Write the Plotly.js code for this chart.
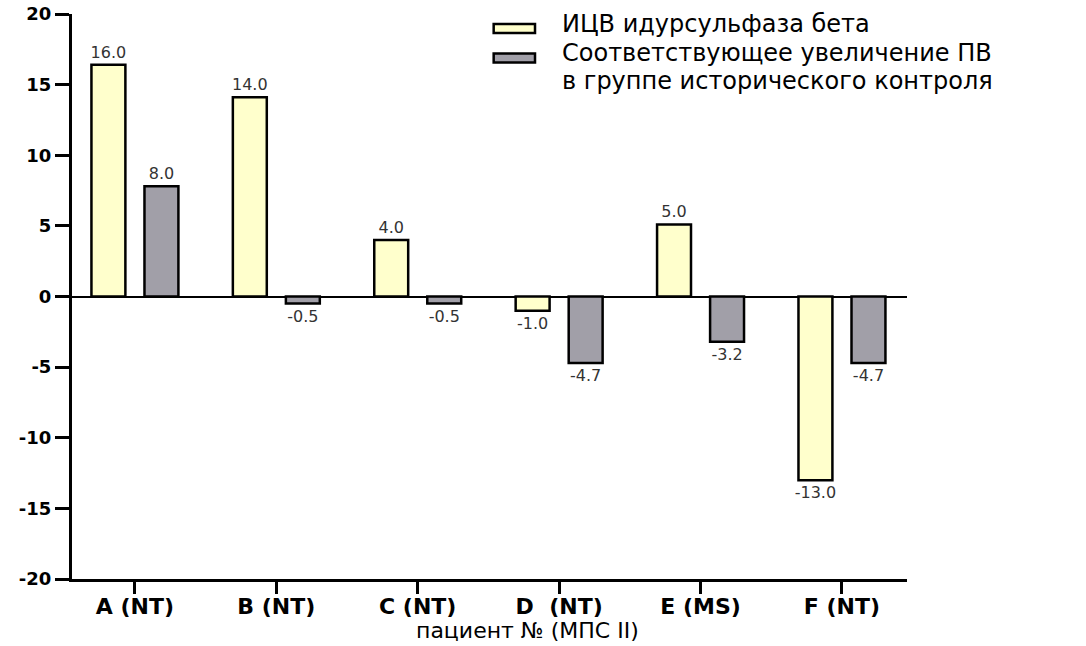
<!DOCTYPE html>
<html>
<head>
<meta charset="utf-8">
<script src="https://cdn.plot.ly/plotly-3.0.1.min.js"></script>
<style>html,body{margin:0;padding:0;background:#fff;}#chart{width:1086px;height:646px;}</style>
</head>
<body>
<div id="chart"></div>
<script>
const categories = ['A (NT)', 'B (NT)', 'C (NT)', 'D\u00a0 (NT)', 'E (MS)', 'F (NT)'];
const seriesNames = ['ИЦВ идурсульфаза бета', 'Соответствующее увеличение ПВ<br>в группе исторического контроля'];
const icvValues = [16.4, 14.1, 4.0, -1.0, 5.1, -13.0];
const icvLabels = ['16.0', '14.0', '4.0', '-1.0', '5.0', '-13.0'];
const histValues = [7.8, -0.5, -0.5, -4.7, -3.2, -4.7];
const histLabels = ['8.0', '-0.5', '-0.5', '-4.7', '-3.2', '-4.7'];
const yTickVals = [-20, -15, -10, -5, 0, 5, 10, 15, 20];
const yTickText = ['-20', '-15', '-10', '-5', '0', '5', '10', '15', '20'];
const xTitle = 'пациент № (МПС II)';
const colors = ['#FFFFCC', '#A19FA8'];

const FONT = 'DejaVu Sans, Arial, sans-serif';

const traces = [
  {type: 'bar', x: categories, y: icvValues, name: seriesNames[0], text: icvLabels,
   textposition: 'outside', constraintext: 'none', cliponaxis: false,
   textfont: {family: FONT, size: 16, color: '#333'},
   marker: {color: colors[0], line: {color: '#000', width: 2.5}}, hoverinfo: 'x+y'},
  {type: 'bar', x: categories, y: histValues, name: seriesNames[1], text: histLabels,
   textposition: 'outside', constraintext: 'none', cliponaxis: false,
   textfont: {family: FONT, size: 16, color: '#333'},
   marker: {color: colors[1], line: {color: '#000', width: 2.5}}, hoverinfo: 'x+y'}
];

const legendLines = seriesNames[1].split('<br>');

const layout = {
  width: 1086, height: 646,
  margin: {l: 72, r: 179, t: 14, b: 67},
  paper_bgcolor: '#fff', plot_bgcolor: '#fff',
  barmode: 'group', bargap: 0.25, bargroupgap: 0.36,
  showlegend: false,
  font: {family: FONT, color: '#000'},
  xaxis: {
    range: [-0.445, 5.46], showgrid: false, zeroline: false,
    showline: true, linecolor: '#000', linewidth: 3,
    ticks: 'outside', ticklen: 12, tickwidth: 3, tickcolor: '#000',
    ticklabelstandoff: -6,
    tickfont: {family: FONT, size: 22, weight: 'bold', color: '#000'}
  },
  yaxis: {
    range: [-20, 20], showgrid: false,
    zeroline: true, zerolinecolor: '#000', zerolinewidth: 2,
    showline: true, linecolor: '#000', linewidth: 3,
    ticks: 'outside', ticklen: 14, tickwidth: 3, tickcolor: '#000',
    tickmode: 'array', tickvals: yTickVals, ticktext: yTickText,
    tickfont: {family: FONT, size: 18, weight: 'bold', color: '#000'}
  },
  shapes: [
    {type: 'rect', xref: 'paper', yref: 'paper', x0: 0.505, x1: 0.5545, y0: 0.9665, y1: 0.9825,
     fillcolor: colors[0], line: {color: '#000', width: 2.5}},
    {type: 'rect', xref: 'paper', yref: 'paper', x0: 0.505, x1: 0.5545, y0: 0.914, y1: 0.930,
     fillcolor: colors[1], line: {color: '#000', width: 2.5}}
  ],
  annotations: [
    {xref: 'paper', yref: 'paper', x: 0.5844, y: (579 - 24) / 565, xanchor: 'left', yanchor: 'middle',
     text: seriesNames[0], showarrow: false, font: {family: FONT, size: 24, color: '#000'}},
    {xref: 'paper', yref: 'paper', x: 0.5844, y: (579 - 53) / 565, xanchor: 'left', yanchor: 'middle',
     text: legendLines[0], showarrow: false, font: {family: FONT, size: 24, color: '#000'}},
    {xref: 'paper', yref: 'paper', x: 0.5844, y: (579 - 81) / 565, xanchor: 'left', yanchor: 'middle',
     text: legendLines[1], showarrow: false, font: {family: FONT, size: 24, color: '#000'}},
    {xref: 'paper', yref: 'paper', x: 0.546, y: (579 - 630) / 565, xanchor: 'center', yanchor: 'middle',
     text: xTitle, showarrow: false, font: {family: FONT, size: 22, color: '#000'}}
  ]
};

Plotly.newPlot('chart', traces, layout, {staticPlot: true, displayModeBar: false});
</script>
</body>
</html>
